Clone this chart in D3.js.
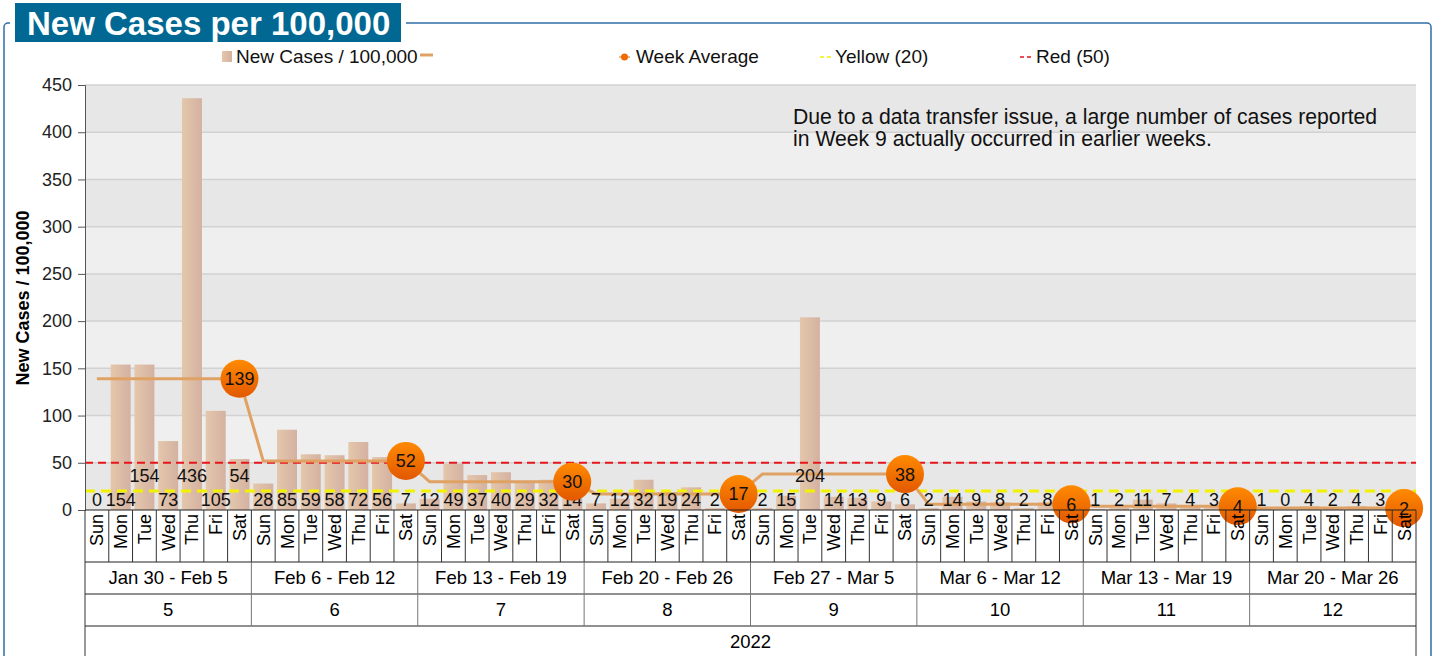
<!DOCTYPE html>
<html>
<head>
<meta charset="utf-8">
<script src="https://cdn.jsdelivr.net/npm/d3@7"></script>
<style>
  body { margin: 0; background: #fff; }
  svg { font-family: "Liberation Sans", Arial, sans-serif; display: block; }
</style>
</head>
<body>
<div id="chart"></div>
<script>
// chart data
const dayNames = ['Sun', 'Mon', 'Tue', 'Wed', 'Thu', 'Fri', 'Sat'];
const weekRanges = ['Jan 30 - Feb 5', 'Feb 6 - Feb 12', 'Feb 13 - Feb 19', 'Feb 20 - Feb 26',
                    'Feb 27 - Mar 5', 'Mar 6 - Mar 12', 'Mar 13 - Mar 19', 'Mar 20 - Mar 26'];
const weekNumbers = ['5', '6', '7', '8', '9', '10', '11', '12'];
const yearLabel = '2022';
const newCases = [
    0, 154, 154, 73, 436, 105, 54,
    28, 85, 59, 58, 72, 56, 7,
    12, 49, 37, 40, 29, 32, 14,
    7, 12, 32, 19, 24, 2, 22,
    2, 15, 204, 14, 13, 9, 6,
    2, 14, 9, 8, 2, 8, 1,
    1, 2, 11, 7, 4, 3, 1,
    1, 0, 4, 2, 4, 3, 1
];
const weekAverage = [139, 52, 30, 17, 38, 6, 4, 2];
const yTicks = [0, 50, 100, 150, 200, 250, 300, 350, 400, 450];
const yellowLevel = 20;
const redLevel = 50;
const noteLines = ['Due to a data transfer issue, a large number of cases reported',
                   'in Week 9 actually occurred in earlier weeks.'];

var plot = {left: 85, right: 1416, top: 85, bottom: 510};
var W = 1437, H = 656;

const svg = d3.select('#chart')
    .append('svg')
        .attr('width', W)
        .attr('height', H);

const defs = svg.append('defs');
const barGrad = defs.append('linearGradient').attr('id', 'barGrad')
    .attr('x1', 0).attr('x2', 1).attr('y1', 0).attr('y2', 0);
barGrad.append('stop').attr('offset', '0%').attr('stop-color', '#e4c7ab');
barGrad.append('stop').attr('offset', '100%').attr('stop-color', '#d4b1a2');
const dotGrad = defs.append('linearGradient').attr('id', 'dotGrad')
    .attr('x1', 0).attr('x2', 0).attr('y1', 0).attr('y2', 1);
dotGrad.append('stop').attr('offset', '0%').attr('stop-color', '#ff8a00');
dotGrad.append('stop').attr('offset', '100%').attr('stop-color', '#e25800');

// frame + title
svg.append('rect')
    .attr('x', 4).attr('y', 23)
    .attr('width', 1427).attr('height', 700)
    .attr('rx', 4)
    .attr('fill', 'none')
    .attr('stroke', '#2f6ea6')
    .attr('stroke-width', 1.5);
svg.append('rect').attr('x', 10).attr('y', 18).attr('width', 396).attr('height', 10).attr('fill', '#fff');
svg.append('rect')
    .attr('x', 15).attr('y', 3)
    .attr('width', 386).attr('height', 39)
    .attr('fill', '#006893');
svg.append('text')
    .attr('x', 27).attr('y', 35)
    .attr('fill', '#fff')
    .style('font-size', '33px')
    .style('font-weight', 'bold')
    .text('New Cases per 100,000');

const x = d3.scaleBand()
    .domain(d3.range(newCases.length))
    .range([plot.left, plot.right]);
const barW = x.bandwidth() * 0.84;
const cx = (i) => x(i) + x.bandwidth() / 2;

const y = d3.scaleLinear()
    .domain([0, 450])
    .range([plot.bottom, plot.top]);

// background bands and grid
svg.append('g')
    .selectAll('rect')
    .data(yTicks.slice(0, -1))
    .enter()
    .append('rect')
    .attr('x', plot.left)
    .attr('y', (d) => y(d + 50))
    .attr('width', plot.right - plot.left)
    .attr('height', (d) => y(d) - y(d + 50))
    .attr('fill', (d, i) => i % 2 == 0 ? '#e7e7e7' : '#efefef');

svg.append('g')
    .selectAll('line')
    .data(yTicks.slice(1))
    .enter()
    .append('line')
    .attr('x1', plot.left).attr('x2', plot.right)
    .attr('y1', (d) => y(d)).attr('y2', (d) => y(d))
    .attr('stroke', '#d2d2d2')
    .attr('stroke-width', 1.5);

// bars
svg.append('g')
    .selectAll('rect')
    .data(newCases)
    .enter()
    .append('rect')
    .attr('x', (d, i) => cx(i) - barW / 2)
    .attr('y', (d) => y(d))
    .attr('width', barW)
    .attr('height', (d) => y(0) - y(d))
    .attr('fill', 'url(#barGrad)');

// threshold lines
svg.append('line')
    .attr('x1', plot.left).attr('x2', plot.right)
    .attr('y1', y(redLevel)).attr('y2', y(redLevel))
    .attr('stroke', '#e8141b')
    .attr('stroke-width', 2)
    .attr('stroke-dasharray', '8,5');
svg.append('line')
    .attr('x1', plot.left).attr('x2', plot.right)
    .attr('y1', y(yellowLevel)).attr('y2', y(yellowLevel))
    .attr('stroke', '#f2f200')
    .attr('stroke-width', 3)
    .attr('stroke-dasharray', '10,6');

// week average line
const avgLine = d3.line()
    .x((d, i) => cx(i))
    .y((d, i) => y(weekAverage[Math.floor(i / 7)]));
svg.append('path')
    .datum(newCases)
    .attr('d', avgLine)
    .attr('fill', 'none')
    .attr('stroke', '#e0a264')
    .attr('stroke-width', 3);

// value labels, stacked upward when they would collide
const labelG = svg.append('g').style('font-size', '18px').attr('fill', '#111');
const placed = [];
newCases.forEach((v, i) => {
    const t = labelG.append('text')
        .attr('x', cx(i))
        .attr('text-anchor', 'middle')
        .text(v);
    const w = t.node().getComputedTextLength();
    const x0 = cx(i) - w / 2 - 0.5, x1 = cx(i) + w / 2 + 0.5;
    let level = 0;
    while (placed.some((p) => p.level == level && p.x0 < x1 && p.x1 > x0)) level++;
    placed.push({x0, x1, level});
    t.attr('y', 506 - level * 24.5);
});

// week average markers
const marks = svg.append('g')
    .selectAll('g')
    .data(weekAverage)
    .enter()
    .append('g')
    .attr('transform', (d, i) => 'translate(' + cx(i * 7 + 6) + ',' + y(d) + ')');
marks.append('circle')
    .attr('r', 19)
    .attr('fill', 'url(#dotGrad)');
marks.append('text')
    .attr('text-anchor', 'middle')
    .attr('y', 6.5)
    .style('font-size', '18px')
    .attr('fill', '#111')
    .text((d) => d);

// y axis
const yAxis = d3.axisLeft(y)
    .tickValues(yTicks)
    .tickSize(7)
    .tickPadding(6);
const yg = svg.append('g')
    .attr('transform', 'translate(' + plot.left + ',0)')
    .call(yAxis);
yg.selectAll('text').style('font-size', '18px').style('font-family', 'inherit').attr('fill', '#222');
yg.selectAll('line').attr('stroke', '#555');
yg.select('.domain').attr('stroke', '#555');

svg.append('text')
    .attr('transform', 'translate(29,298) rotate(-90)')
    .attr('text-anchor', 'middle')
    .style('font-size', '18px')
    .style('font-weight', 'bold')
    .text('New Cases / 100,000');

// category table under the plot
const rows = {day: [510, 562], range: [562, 594], week: [594, 626], year: [626, 656]};
const table = svg.append('g');
[510, 562, 594, 626].forEach((yy) => {
    table.append('line')
        .attr('x1', plot.left).attr('x2', plot.right)
        .attr('y1', yy).attr('y2', yy)
        .attr('stroke', '#222');
});
table.selectAll('.dsep')
    .data(d3.range(newCases.length + 1))
    .enter()
    .append('line')
    .attr('x1', (i) => i < newCases.length ? x(i) : plot.right)
    .attr('x2', (i) => i < newCases.length ? x(i) : plot.right)
    .attr('y1', rows.day[0]).attr('y2', rows.day[1])
    .attr('stroke', '#333');
table.selectAll('.wsep')
    .data(d3.range(weekRanges.length + 1))
    .enter()
    .append('line')
    .attr('x1', (i) => i < weekRanges.length ? x(i * 7) : plot.right)
    .attr('x2', (i) => i < weekRanges.length ? x(i * 7) : plot.right)
    .attr('y1', rows.range[0]).attr('y2', rows.week[1])
    .attr('stroke', (i) => (i == 0 || i == weekRanges.length) ? '#333' : '#777');
[plot.left, plot.right].forEach((xx) => {
    table.append('line')
        .attr('x1', xx).attr('x2', xx)
        .attr('y1', rows.year[0]).attr('y2', H)
        .attr('stroke', '#333');
});

table.selectAll('.day')
    .data(newCases)
    .enter()
    .append('text')
    .attr('transform', (d, i) => 'translate(' + (cx(i) + 6.5) + ',514) rotate(-90)')
    .attr('text-anchor', 'end')
    .style('font-size', '18px')
    .text((d, i) => dayNames[i % 7]);

const weekMid = (i) => (x(i * 7) + x(i * 7 + 6) + x.bandwidth()) / 2;
table.selectAll('.range')
    .data(weekRanges)
    .enter()
    .append('text')
    .attr('x', (d, i) => weekMid(i))
    .attr('y', 584)
    .attr('text-anchor', 'middle')
    .style('font-size', '18.5px')
    .text((d) => d);
table.selectAll('.wk')
    .data(weekNumbers)
    .enter()
    .append('text')
    .attr('x', (d, i) => weekMid(i))
    .attr('y', 616)
    .attr('text-anchor', 'middle')
    .style('font-size', '18.5px')
    .text((d) => d);
table.append('text')
    .attr('x', (plot.left + plot.right) / 2)
    .attr('y', 648)
    .attr('text-anchor', 'middle')
    .style('font-size', '18.5px')
    .text(yearLabel);

// note
svg.append('g')
    .selectAll('text')
    .data(noteLines)
    .enter()
    .append('text')
    .attr('x', 793)
    .attr('y', (d, i) => 124 + i * 22)
    .style('font-size', '21.2px')
    .attr('fill', '#111')
    .text((d) => d);

// legend
const lg = svg.append('g').style('font-size', '19px').attr('fill', '#111');
lg.append('rect').attr('x', 222).attr('y', 51).attr('width', 10).attr('height', 11).attr('fill', 'url(#barGrad)');
lg.append('text').attr('x', 236).attr('y', 63).text('New Cases / 100,000');
lg.append('line').attr('x1', 420).attr('x2', 433).attr('y1', 55).attr('y2', 55)
    .attr('stroke', '#e0a264').attr('stroke-width', 3);
lg.append('line').attr('x1', 619).attr('x2', 630).attr('y1', 57).attr('y2', 57)
    .attr('stroke', '#e0a264').attr('stroke-width', 1.5);
lg.append('circle').attr('cx', 624.5).attr('cy', 57).attr('r', 3.5).attr('fill', '#f06a00');
lg.append('text').attr('x', 636).attr('y', 63).text('Week Average');
lg.append('line').attr('x1', 820).attr('x2', 832).attr('y1', 57).attr('y2', 57)
    .attr('stroke', '#f2f200').attr('stroke-width', 1.5).attr('stroke-dasharray', '4,3');
lg.append('text').attr('x', 835).attr('y', 63).text('Yellow (20)');
lg.append('line').attr('x1', 1020).attr('x2', 1032).attr('y1', 57).attr('y2', 57)
    .attr('stroke', '#e8141b').attr('stroke-width', 1.5).attr('stroke-dasharray', '4,3');
lg.append('text').attr('x', 1036).attr('y', 63).text('Red (50)');
</script>
</body>
</html>
